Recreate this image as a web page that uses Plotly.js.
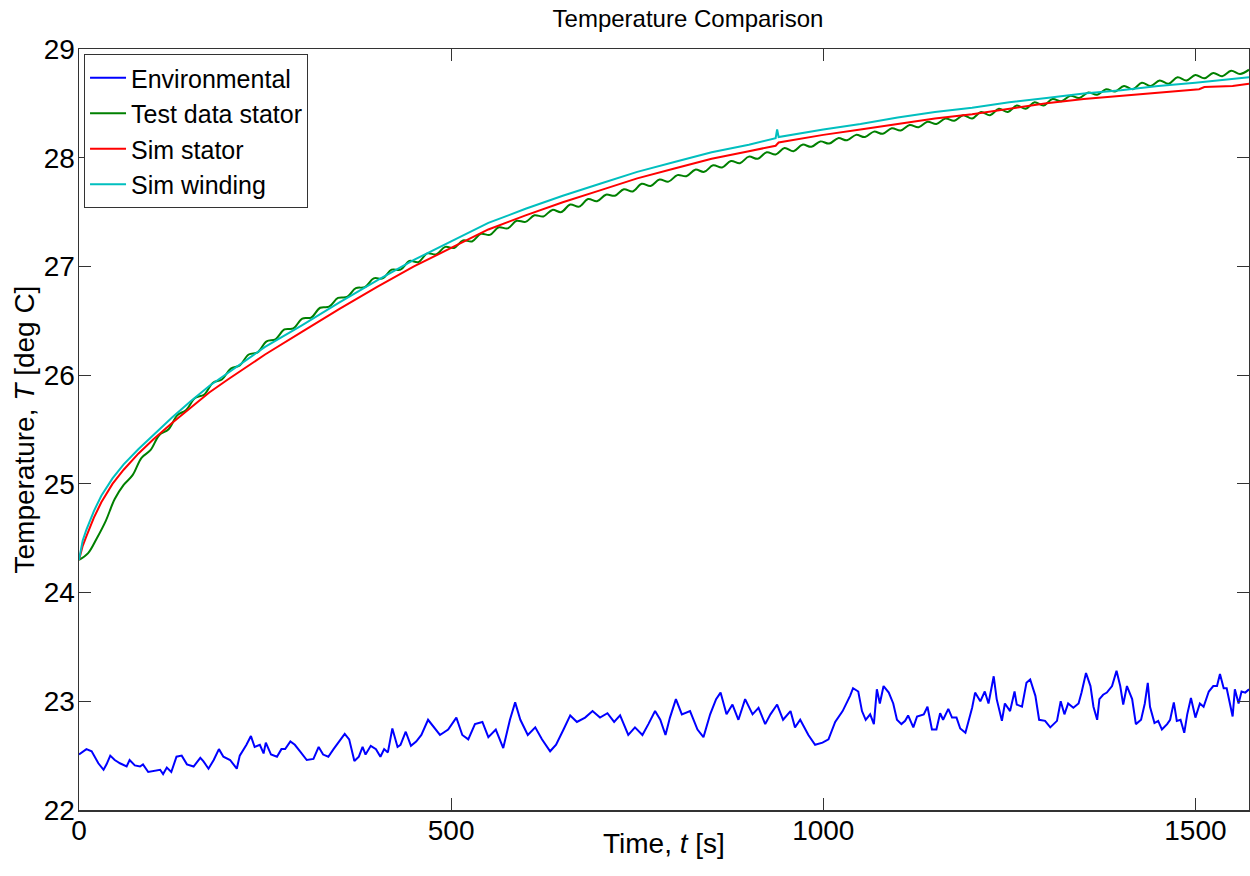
<!DOCTYPE html>
<html>
<head>
<meta charset="utf-8">
<script src="https://cdn.plot.ly/plotly-3.0.1.min.js"></script>
<style>html,body{margin:0;padding:0;background:#fff;}#chart{width:1250px;height:876px;}</style>
</head>
<body>
<div id="chart"></div>
<script>
// ---- Data ----
var seriesNames = ["Environmental", "Test data stator", "Sim stator", "Sim winding"];
var xTickVals = [0, 500, 1000, 1500];
var yTickVals = [22, 23, 24, 25, 26, 27, 28, 29];
var titleText = "Temperature Comparison";
var xTitleText = "Time, <i>t</i> [s]";
var yTitleText = "Temperature, <i>T</i> [deg C]";

var envTime = [0,10,17,22,26,33,37,42,48,55,64,68,75,82,86,93,102,109,113,118,124,131,138,145,154,163,167,174,181,188,194,203,212,216,225,231,236,243,248,251,258,266,272,277,284,290,297,306,315,322,328,335,342,351,357,363,370,376,381,385,392,399,405,410,415,421,428,432,439,446,453,460,
469,485,496,507,515,523,532,542,550,560,570,579,586,593,603,613,622,633,641,651,660,669,680,690,700,710,719,727,738,747,757,765,774,781,788,794,802,810,821,831,839,848,856,862,870,878,886,895,905,913,922,929,938,946,956,962,969,980,989,999,1007,1016,1026,
1036,1040,1047,1052,1057,1063,1068,1072,1076,1081,1088,1094,1099,1105,1110,1114,1121,1126,1135,1140,1146,1152,1157,1161,1168,1173,1179,1184,1191,1200,1204,1211,1217,1222,1229,1233,1240,1244,1251,1257,1260,1267,1273,1278,1285,1290,1298,1305,1314,1319,1324,1329,1336,1343,1347,1353,1359,1363,1368,1371,1376,1381,1388,1394,1399,1403,1408,1415,1420,1427,1432,1436,1439,1445,1450,1455,1462,1466,1471,1475,1480,1485,1489,1494,1500,1506,1511,1518,1524,1529,1533,1538,1542,1550,1553,1558,1562,1567,1572];
var envTemp = [22.51,22.56,22.54,22.48,22.43,22.37,22.42,22.50,22.46,22.43,22.40,22.46,22.41,22.40,22.42,22.35,22.36,22.37,22.33,22.39,22.35,22.49,22.50,22.42,22.40,22.48,22.45,22.38,22.46,22.56,22.49,22.46,22.38,22.50,22.60,22.68,22.58,22.60,22.52,22.62,22.51,22.49,22.56,22.56,22.63,22.60,22.54,22.46,22.47,22.58,22.51,22.49,22.56,22.65,22.70,22.65,22.45,22.49,22.58,22.51,22.59,22.56,22.49,22.56,22.53,22.75,22.58,22.60,22.72,22.59,22.63,22.69,
22.83,22.69,22.74,22.85,22.69,22.65,22.79,22.81,22.67,22.74,22.57,22.83,22.99,22.83,22.69,22.76,22.65,22.54,22.60,22.74,22.87,22.81,22.85,22.91,22.85,22.89,22.81,22.87,22.69,22.76,22.69,22.79,22.91,22.83,22.69,22.85,23.02,22.88,22.91,22.74,22.67,22.88,23.02,23.08,22.88,22.97,22.83,23.02,22.88,22.94,22.79,22.88,22.97,22.83,22.91,22.76,22.83,22.69,22.60,22.62,22.65,22.81,22.91,
23.05,23.12,23.09,22.91,22.83,22.88,22.79,23.11,22.98,23.14,23.08,22.98,22.83,22.79,22.82,22.87,22.76,22.86,22.88,22.95,22.74,22.74,22.89,22.83,22.93,22.85,22.85,22.75,22.71,22.94,23.08,23.00,23.09,22.98,23.23,23.02,22.82,22.98,22.91,23.09,22.97,22.95,23.17,23.20,23.05,22.83,22.82,22.76,22.82,23.00,22.88,22.98,22.94,22.98,23.08,23.26,23.14,22.95,22.83,23.02,23.06,23.08,23.14,23.28,23.14,22.97,23.14,23.02,22.79,22.83,22.98,23.17,22.95,22.80,22.82,22.74,22.79,22.83,22.99,22.82,22.83,22.71,22.88,23.03,22.85,22.98,22.95,23.09,23.14,23.14,23.25,23.12,23.12,22.86,23.11,22.98,23.09,23.08,23.11];

var testTime = [0,12,24,36,48,60,72,84,96,108,120,132,144,156,168,180,192,204,216,228,240,252,264,276,288,300,312,324,336,348,360,372,384,396,408,420,432,444,456,468,480,492,504,516,528,540,552,564,576,588,600,612,624,636,648,660,672,684,696,708,720,732,744,756,768,780,792,804,816,828,840,852,864,876,888,900,912,924,936,948,960,972,984,996,1008,1020,1032,1044,1056,1068,1080,1092,1104,1116,1128,1140,1152,1164,1176,1188,1200,1212,1224,1236,1248,1260,1272,1284,1296,1308,1320,1332,1344,1356,1368,1380,1392,1404,1416,1428,1440,1452,1464,1476,1488,1500,1512,1524,1536,1548,1560,1572];
var testTemp = [24.30,24.36,24.50,24.66,24.86,24.99,25.08,25.24,25.31,25.45,25.50,25.63,25.68,25.79,25.82,25.93,25.96,26.06,26.09,26.19,26.21,26.31,26.33,26.42,26.43,26.52,26.53,26.62,26.63,26.71,26.72,26.80,26.81,26.89,26.89,26.97,26.97,27.05,27.04,27.12,27.11,27.18,27.17,27.24,27.23,27.30,27.29,27.36,27.35,27.42,27.41,27.47,27.46,27.52,27.50,27.57,27.55,27.62,27.60,27.66,27.65,27.71,27.69,27.76,27.74,27.80,27.78,27.84,27.83,27.89,27.87,27.93,27.91,27.97,27.95,28.01,27.99,28.05,28.03,28.09,28.06,28.12,28.10,28.15,28.13,28.18,28.16,28.21,28.19,28.24,28.22,28.27,28.25,28.30,28.28,28.33,28.31,28.36,28.34,28.39,28.36,28.42,28.39,28.45,28.42,28.48,28.45,28.51,28.48,28.54,28.52,28.57,28.55,28.60,28.58,28.63,28.61,28.66,28.63,28.69,28.66,28.71,28.68,28.74,28.71,28.76,28.73,28.78,28.75,28.80,28.77,28.81];

var simStatorTime = [0,5,10,20,30,45,60,80,100,125,150,175,200,250,300,350,400,450,500,550,600,650,700,750,800,850,900,936,940,1000,1050,1100,1150,1200,1250,1300,1350,1400,1450,1490,1505,1512,1550,1572];
var simStatorTemp = [24.30,24.43,24.52,24.69,24.83,25.00,25.13,25.28,25.41,25.56,25.70,25.84,25.96,26.19,26.40,26.61,26.81,27.00,27.17,27.34,27.47,27.59,27.70,27.81,27.90,27.99,28.06,28.11,28.14,28.21,28.26,28.31,28.36,28.40,28.45,28.50,28.54,28.57,28.60,28.62,28.63,28.65,28.66,28.68];

var simWindingTime = [0,5,10,20,30,45,60,80,100,125,150,175,200,250,300,350,400,450,500,550,600,650,700,750,800,850,900,936,938,940,1000,1050,1100,1150,1200,1250,1300,1350,1400,1450,1500,1550,1572];
var simWindingTemp = [24.30,24.48,24.58,24.75,24.89,25.05,25.18,25.32,25.45,25.61,25.76,25.90,26.02,26.26,26.46,26.67,26.87,27.06,27.23,27.40,27.53,27.65,27.76,27.87,27.96,28.05,28.12,28.18,28.26,28.19,28.26,28.31,28.37,28.42,28.46,28.51,28.55,28.59,28.62,28.66,28.69,28.72,28.74];

var colors = ["#0000ff", "#008000", "#ff0000", "#00bfbf"];

// ---- Plot ----
var FONT = "Liberation Sans, Arial, Helvetica, sans-serif";
var traces = [
  {x: envTime, y: envTemp, name: seriesNames[0], mode: "lines", line: {color: colors[0], width: 2}},
  {x: testTime, y: testTemp, name: seriesNames[1], mode: "lines", line: {color: colors[1], width: 2, shape: "spline", smoothing: 1}},
  {x: simStatorTime, y: simStatorTemp, name: seriesNames[2], mode: "lines", line: {color: colors[2], width: 2}},
  {x: simWindingTime, y: simWindingTemp, name: seriesNames[3], mode: "lines", line: {color: colors[3], width: 2}}
];

var axisCommon = {
  showgrid: false, zeroline: false, showline: true, mirror: "ticks",
  linecolor: "#333333", linewidth: 1.5,
  ticks: "inside", ticklen: 12, tickwidth: 1, tickcolor: "#333333",
  tickfont: {family: FONT, size: 28, color: "#000"}
};

var layout = {
  width: 1250, height: 876,
  margin: {l: 79, r: 1, t: 49, b: 66},
  paper_bgcolor: "#fff", plot_bgcolor: "#fff",
  font: {family: FONT, color: "#000"},
  showlegend: true,
  title: {text: titleText, font: {family: FONT, size: 24, color: "#000"},
          xref: "paper", x: 0.5205, xanchor: "center", yref: "container", y: 0.979, yanchor: "middle"},
  xaxis: Object.assign({}, axisCommon, {
    range: [0, 1572], tickvals: xTickVals, ticktext: xTickVals.map(String), ticklabelstandoff: -5
  }),
  yaxis: Object.assign({}, axisCommon, {
    range: [22, 29], tickvals: yTickVals, ticktext: yTickVals.map(String), ticklabelstandoff: -3
  }),
  annotations: [
    {text: xTitleText, xref: "paper", yref: "paper", x: 0.5, y: -0.0445, xanchor: "center", yanchor: "middle",
     showarrow: false, font: {family: FONT, size: 28, color: "#000"}},
    {text: yTitleText, xref: "paper", yref: "paper", x: -0.047, y: 0.5, xanchor: "center", yanchor: "middle",
     textangle: -90, showarrow: false, font: {family: FONT, size: 28, color: "#000"}}
  ],
  legend: {
    x: 0.0043, y: 0.9934, xanchor: "left", yanchor: "top",
    bgcolor: "#fff", bordercolor: "#333333", borderwidth: 1,
    font: {family: FONT, size: 25, color: "#000"},
    tracegroupgap: 0, itemwidth: 36
  }
};

Plotly.newPlot("chart", traces, layout, {staticPlot: true, displayModeBar: false});
</script>
</body>
</html>
